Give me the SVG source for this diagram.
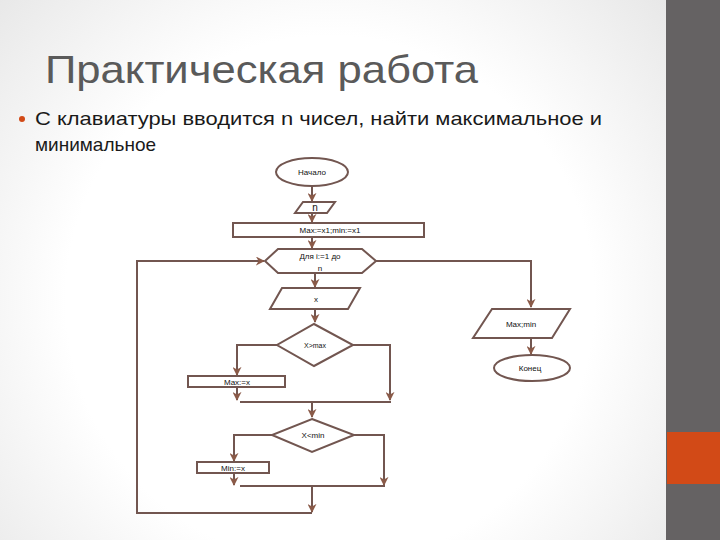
<svg xmlns="http://www.w3.org/2000/svg" width="720" height="540" viewBox="0 0 720 540">
<defs>
<radialGradient id="bg" cx="330" cy="300" r="480" gradientUnits="userSpaceOnUse">
<stop offset="0.55" stop-color="#ffffff"/>
<stop offset="1" stop-color="#e4e4e4"/>
</radialGradient>
<marker id="arr" viewBox="0 0 10 10" refX="9" refY="5" markerWidth="4.5" markerHeight="4.5" orient="auto" markerUnits="strokeWidth">
<path d="M0,0 L10,5 L0,10 L3,5 Z" fill="#8a5a48"/>
</marker>
<style>
.shape{fill:#ffffff;stroke:#725650;stroke-width:2}
.conn{fill:none;stroke:#725650;stroke-width:2}
.lbl{font-family:"Liberation Sans",Arial,sans-serif;font-size:8px;fill:#111;text-anchor:middle}
</style>
</defs>
<rect width="720" height="540" fill="url(#bg)"/>
<rect x="666" y="0" width="54" height="540" fill="#656263"/>
<rect x="667" y="432" width="53" height="52" fill="#d24a17"/>
<text x="45" y="83" font-family="'Liberation Sans',Arial,sans-serif" font-size="39" fill="#5a5a5a" textLength="433" lengthAdjust="spacingAndGlyphs">Практическая работа</text>
<circle cx="22" cy="119" r="3" fill="#d24a17"/>
<text x="35" y="125" font-family="'Liberation Sans',Arial,sans-serif" font-size="19" fill="#1a1a1a" textLength="567" lengthAdjust="spacingAndGlyphs">С клавиатуры вводится n чисел, найти максимальное и</text>
<text x="35" y="151" font-family="'Liberation Sans',Arial,sans-serif" font-size="19" fill="#1a1a1a">минимальное</text>

<g id="connectors">
<path class="conn" d="M312,187 V201" marker-end="url(#arr)"/>
<path class="conn" d="M312,214 V222" marker-end="url(#arr)"/>
<path class="conn" d="M312,238 V248" marker-end="url(#arr)"/>
<path class="conn" d="M315,274 V287" marker-end="url(#arr)"/>
<path class="conn" d="M315,310 V322" marker-end="url(#arr)"/>
<path class="conn" d="M277,345 H237 V375" marker-end="url(#arr)"/>
<path class="conn" d="M353,345 H390 V400" marker-end="url(#arr)"/>
<path class="conn" d="M237,388 V400" marker-end="url(#arr)"/>
<path class="conn" d="M240,402 H391"/>
<path class="conn" d="M312,402 V417" marker-end="url(#arr)"/>
<path class="conn" d="M272,435 H234 V461" marker-end="url(#arr)"/>
<path class="conn" d="M354,435 H384 V485" marker-end="url(#arr)"/>
<path class="conn" d="M234,474 V485" marker-end="url(#arr)"/>
<path class="conn" d="M240,486 H385"/>
<path class="conn" d="M312,486 V512" marker-end="url(#arr)"/>
<path class="conn" d="M312,513 H137 V261 H264" marker-end="url(#arr)"/>
<path class="conn" d="M376,261 H531 V307" marker-end="url(#arr)"/>
<path class="conn" d="M531,339 V354" marker-end="url(#arr)"/>
</g>

<g id="start">
<ellipse class="shape" cx="312" cy="172" rx="36" ry="14"/>
<text class="lbl" x="312" y="175">Начало</text>
</g>
<g id="input-n">
<polygon class="shape" points="303,202 335,202 327,213 295,213"/>
<text class="lbl" x="315" y="211" style="font-size:10px">n</text>
</g>
<g id="init">
<rect class="shape" x="233" y="223" width="191" height="14"/>
<text class="lbl" x="330" y="233">Max:=x1;min:=x1</text>
</g>
<g id="loop">
<polygon class="shape" points="265,261 278,249 362,249 376,261 362,273 278,273"/>
<text class="lbl" x="320" y="259">Для i:=1 до</text>
<text class="lbl" x="320" y="271">n</text>
</g>
<g id="input-x">
<polygon class="shape" points="282,288 360,288 348,309 270,309"/>
<text class="lbl" x="316" y="302">x</text>
</g>
<g id="cond-max">
<polygon class="shape" points="314,324 353,345 314,366 277,345"/>
<text class="lbl" x="315" y="348" style="font-size:7px">X&gt;max</text>
</g>
<g id="set-max">
<rect class="shape" x="188" y="376" width="97" height="11"/>
<text class="lbl" x="237" y="385">Max:=x</text>
</g>
<g id="cond-min">
<polygon class="shape" points="312,419 354,435 312,452 272,435"/>
<text class="lbl" x="313" y="438">X&lt;min</text>
</g>
<g id="set-min">
<rect class="shape" x="197" y="462" width="72" height="11"/>
<text class="lbl" x="233" y="471">Min:=x</text>
</g>
<g id="output">
<polygon class="shape" points="492,309 570,309 552,338 473,338"/>
<text class="lbl" x="521" y="327">Max;min</text>
</g>
<g id="end">
<ellipse class="shape" cx="532" cy="368" rx="38" ry="13"/>
<text class="lbl" x="530" y="371">Конец</text>
</g>
</svg>
